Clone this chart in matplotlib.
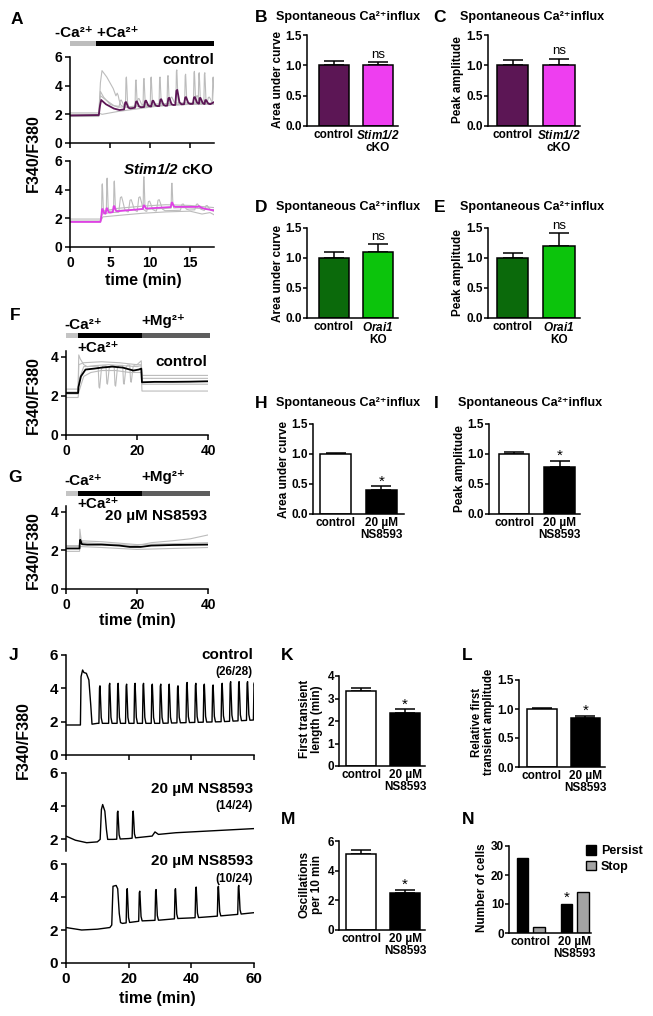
import numpy as np
import matplotlib
matplotlib.use('Agg')
import matplotlib.pyplot as plt
from matplotlib.transforms import blended_transform_factory
from matplotlib.patches import Rectangle

plt.rcParams.update({
    'font.family': ['Liberation Sans', 'DejaVu Sans'],
    'font.weight': 'bold',
    'mathtext.fontset': 'custom',
    'mathtext.rm': 'Liberation Sans:bold',
    'mathtext.it': 'Liberation Sans:bold:italic',
    'mathtext.sf': 'Liberation Sans:bold:italic',
    'mathtext.bf': 'Liberation Sans:bold',
    'mathtext.default': 'rm',
    'axes.linewidth': 1.1,
})

W, H = 653, 1016

# ---------------- data ----------------
# Panel A, control (time in min)
A_ctl_mean_t = [0, 3.6, 3.75, 3.9, 4.5, 5.5, 6.2, 8, 10, 12, 14, 16, 17.5, 18]
A_ctl_mean_y = [1.92, 1.95, 2.6, 3.0, 2.7, 2.4, 2.3, 2.45, 2.55, 2.6, 2.7, 2.75, 2.7, 2.85]
A_ctl_mean_spk_t = [6.9, 8.25, 9.4, 10.3, 11.3, 12.3, 13.3, 14.4, 15.5, 16.2, 16.9]
A_ctl_mean_spk_p = [2.85, 2.9, 2.95, 2.95, 3.05, 3.15, 3.7, 3.2, 3.2, 3.15, 3.0]
A_ctl_g1_t = [0, 3.6, 3.8, 4.0, 4.6, 5.4, 6.2, 7, 9, 12, 15, 18]
A_ctl_g1_y = [2.0, 2.0, 4.2, 5.05, 4.6, 3.8, 2.6, 2.5, 2.55, 2.6, 2.7, 2.7]
A_ctl_g1_spk_t = [5.9]
A_ctl_g1_spk_p = [3.5]
A_ctl_g2_t = [0, 3.6, 3.8, 4.2, 5, 6, 8, 10, 12, 14, 16, 18]
A_ctl_g2_y = [1.95, 1.95, 3.6, 3.2, 2.7, 2.5, 2.55, 2.6, 2.65, 2.7, 2.7, 2.75]
A_ctl_g2_spk_t = [7.0, 8.2, 9.2, 10.1, 11.2, 12.2, 13.3, 14.4, 15.5, 16.1, 16.8, 17.85]
A_ctl_g2_spk_p = [4.6, 4.4, 4.5, 4.6, 4.6, 4.7, 5.1, 4.8, 5.0, 4.9, 4.9, 4.6]
A_ctl_g3_t = [0, 3.6, 4.0, 6, 8, 10, 12, 14, 16, 18]
A_ctl_g3_y = [2.1, 2.1, 2.0, 2.2, 2.35, 2.5, 2.65, 2.7, 2.75, 2.8]
A_ctl_g4_t = [0, 3.6, 3.8, 4.5, 5.5, 7, 10, 14, 18]
A_ctl_g4_y = [1.85, 1.85, 3.3, 3.0, 2.6, 2.5, 2.7, 2.8, 2.8]
A_ctl_g4_spk_t = [6.3, 8.5, 12.6, 15.8, 17.3]
A_ctl_g4_spk_p = [3.0, 3.1, 3.2, 3.3, 3.2]

# Panel A, Stim1/2 cKO
A_ko_mean_t = [0, 3.8, 4.0, 4.3, 5, 6, 8, 10, 13, 16, 17, 18]
A_ko_mean_y = [1.75, 1.75, 2.3, 2.3, 2.4, 2.5, 2.6, 2.7, 2.8, 2.8, 2.65, 2.55]
A_ko_mean_spk_t = [4.0, 4.55, 5.45, 9.2, 12.7, 16.1]
A_ko_mean_spk_p = [2.65, 2.7, 2.85, 2.9, 3.1, 2.85]
A_ko_g1_t = [0, 3.8, 4.0, 5, 6, 8, 10, 12, 14, 16, 18]
A_ko_g1_y = [1.8, 1.8, 2.4, 2.5, 2.55, 2.6, 2.65, 2.7, 2.75, 2.7, 2.6]
A_ko_g1_spk_t = [4.0, 4.6, 5.5, 9.2, 12.7]
A_ko_g1_spk_p = [4.4, 4.8, 4.6, 4.9, 4.45]
A_ko_g2_t = [0, 3.8, 4.0, 5, 7, 10, 13, 16, 18]
A_ko_g2_y = [1.8, 1.8, 2.3, 2.4, 2.45, 2.5, 2.55, 2.6, 2.5]
A_ko_g2_spk_t = [6.3, 7.5, 8.6, 9.8, 11.0, 14.0, 15.8, 17.0]
A_ko_g2_spk_p = [3.5, 3.3, 3.5, 3.2, 3.3, 3.0, 3.0, 2.9]
A_ko_g3_t = [0, 3.8, 4.1, 6, 9, 12, 15, 18]
A_ko_g3_y = [1.95, 1.95, 2.5, 2.7, 2.85, 2.95, 2.9, 2.75]
A_ko_g4_t = [0, 3.8, 4.1, 6, 9, 12, 15, 16.5, 17.5, 18]
A_ko_g4_y = [1.75, 1.75, 2.1, 2.2, 2.35, 2.45, 2.5, 2.3, 2.4, 2.25]

A_cond_t = [0, 3.3, 18]          # -Ca2+, +Ca2+

# Panel F (control, Mg2+ block)
F_mean_t = [0, 3.4, 3.5, 4.2, 5.5, 8, 10, 13, 16, 19, 20.5, 21.2, 21.4, 25, 30, 35, 40]
F_mean_y = [2.15, 2.15, 2.45, 3.0, 3.35, 3.4, 3.45, 3.5, 3.45, 3.3, 3.35, 3.4, 2.7, 2.72, 2.72, 2.73, 2.75]
F_g1_t = [0, 3.4, 3.6, 4.0, 5, 6, 8, 12, 16, 20, 21.2, 21.4, 30, 40]
F_g1_y = [2.35, 2.35, 4.1, 3.9, 3.6, 3.5, 3.55, 3.6, 3.55, 3.5, 3.55, 3.05, 3.05, 3.05]
F_g2_t = [0, 3.4, 3.6, 5, 7, 10, 14, 18, 21.2, 21.4, 30, 40]
F_g2_y = [1.92, 1.92, 2.2, 3.0, 3.2, 3.3, 3.3, 3.2, 3.2, 2.25, 2.25, 2.25]
F_g3_t = [0, 3.4, 3.6, 5, 21.2, 21.4, 40]
F_g3_y = [2.2, 2.2, 2.8, 3.5, 3.6, 2.6, 2.6]
F_g3_dip_t = [9.3, 11.5, 13.8, 16.2, 18.2]
F_g3_dip_p = [2.4, 2.6, 2.5, 2.6, 2.7]
F_g4_t = [0, 3.4, 3.6, 5, 10, 15, 20, 21.2, 21.4, 40]
F_g4_y = [2.1, 2.1, 3.6, 3.7, 3.75, 3.7, 3.6, 3.8, 2.9, 2.9]
F_cond_t = [0, 3.4, 21.4, 40.5]    # -Ca2+, +Ca2+, +Mg2+

# Panel G (20 uM NS8593)
G_mean_t = [0, 3.8, 3.9, 4.0, 4.5, 6, 10, 15, 18, 21, 24, 30, 40]
G_mean_y = [2.1, 2.1, 2.4, 2.55, 2.32, 2.3, 2.3, 2.25, 2.18, 2.18, 2.25, 2.28, 2.3]
G_g1_t = [0, 3.8, 3.9, 4.3, 5, 10, 20, 24, 30, 35, 40]
G_g1_y = [2.2, 2.2, 3.1, 2.5, 2.4, 2.35, 2.25, 2.4, 2.5, 2.6, 2.8]
G_g2_t = [0, 3.8, 4.0, 10, 20, 30, 40]
G_g2_y = [1.95, 1.95, 2.2, 2.15, 2.05, 2.1, 2.15]
G_g3_t = [0, 3.8, 4.0, 10, 20, 30, 40]
G_g3_y = [2.25, 2.25, 2.5, 2.45, 2.3, 2.35, 2.4]

# Panel J single-cell traces
J1_t = [0, 4.6, 4.8, 5.3, 5.7, 6.5, 7.3, 7.9, 8.3, 10, 20, 30, 40, 50, 60]
J1_y = [1.8, 1.8, 4.7, 5.1, 4.95, 4.9, 4.5, 3.0, 1.85, 1.9, 1.9, 1.9, 1.95, 2.0, 2.1]
J1_spk_t = [10.7, 13.8, 16.5, 19.2, 21.9, 24.6, 27.4, 30.1, 32.8, 35.6, 38.5, 41.3, 44.0,
            46.8, 49.7, 52.4, 55.1, 57.8, 60.0]
J1_spk_p = [4.15, 4.3, 4.3, 4.25, 4.3, 4.3, 4.25, 4.25, 4.25, 4.15, 4.35, 4.3, 4.25,
            4.2, 4.3, 4.4, 4.4, 4.4, 4.35]
J2_t = [0, 3, 6.6, 10, 10.9, 11.3, 11.7, 12.4, 12.9, 13.3, 15, 20, 25, 27.5, 28.4, 29.5, 35, 45, 60]
J2_y = [2.2, 1.95, 1.8, 1.85, 2.0, 3.8, 4.1, 3.7, 2.6, 2.0, 2.0, 2.05, 2.15, 2.2, 2.45, 2.3, 2.4, 2.5, 2.65]
J2_spk_t = [16.4, 21.3]
J2_spk_p = [3.7, 3.7]
J3_t = [0, 5, 10, 14, 14.6, 15.0, 16.0, 16.5, 17.0, 17.4, 18, 24, 30, 36, 42, 49, 55, 60]
J3_y = [2.15, 2.0, 2.05, 2.15, 2.3, 4.65, 4.7, 4.5, 3.0, 2.45, 2.4, 2.55, 2.6, 2.7, 2.75, 2.85, 2.95, 3.05]
J3_spk_t = [19.4, 23.4, 28.6, 34.8, 41.4, 48.5, 55.0]
J3_spk_p = [4.5, 4.35, 4.45, 4.5, 4.6, 4.65, 4.7]

# Bar panels
grp_labels_stim = ['control', '$\\mathsf{Stim1/2}$\ncKO']
grp_labels_orai = ['control', '$\\mathsf{Orai1}$\nKO']
grp_labels_ns = ['control', '20 µM\nNS8593']
B_vals, B_err = [1.0, 1.01], [0.07, 0.05]
C_vals, C_err = [1.0, 1.01], [0.08, 0.10]
D_vals, D_err = [1.0, 1.10], [0.10, 0.13]
E_vals, E_err = [1.0, 1.20], [0.08, 0.22]
H_vals, H_err = [1.0, 0.40], [0.02, 0.06]
I_vals, I_err = [1.0, 0.79], [0.03, 0.10]
K_vals, K_err = [3.35, 2.35], [0.12, 0.17]
L_vals, L_err = [1.0, 0.85], [0.01, 0.03]
M_vals, M_err = [5.1, 2.5], [0.30, 0.22]
N_persist = [26, 10]
N_stop = [2, 14]

# ---------------- helpers ----------------
purple = '#5c1655'
pink = '#ee3ef0'
dgreen = '#0b6a0b'
lgreen = '#0cc40c'
gtr = '#bcbcbc'
CA = 'Ca²⁺'
MG = 'Mg²⁺'

fig = plt.figure(figsize=(W / 100, H / 100), dpi=100)


def rect(x0, y0, x1, y1):
    return [x0 / W, 1 - y1 / H, (x1 - x0) / W, (y1 - y0) / H]


def ftext(x, y, s, ha='left', size=9, **kw):
    fig.text(x / W, 1 - y / H, s, ha=ha, va='center', fontsize=size, **kw)


def trace(bt, by, st=(), sp=(), w=1.0):
    bt = np.asarray(bt, float); by = np.asarray(by, float)
    dt = np.array([-0.2, 0.0, 0.15, 0.3, 0.55, 0.9]) * w
    fr = np.array([0, 0.95, 1.0, 0.7, 0.15, 0.0])
    pts = []
    wins = []
    for t, p in zip(st, sp):
        b0 = np.interp(t, bt, by)
        for d, f in zip(dt, fr):
            bi = np.interp(t + d, bt, by)
            pts.append((t + d, bi + f * (p - b0)))
        wins.append((t + dt[0], t + dt[-1]))
    for t, y in zip(bt, by):
        if not any(a < t < b for a, b in wins):
            pts.append((t, y))
    pts.sort()
    return [p[0] for p in pts], [p[1] for p in pts]


def style_trace(ax, xlim, ylim, xticks, yticks, xlabels=True, bottom=True, fs=10):
    ax.set_xlim(*xlim); ax.set_ylim(*ylim)
    for s in ['top', 'right']:
        ax.spines[s].set_visible(False)
    ax.set_yticks(yticks)
    ax.tick_params(length=3.5, width=1.1, labelsize=fs, pad=2)
    if bottom:
        ax.set_xticks(xticks)
        if not xlabels:
            ax.set_xticklabels([])
        ax.tick_params(axis='x', pad=3)
    else:
        ax.spines['bottom'].set_visible(False)
        ax.set_xticks([])


def strip(ax, segs, colors, y0, y1):
    tr = blended_transform_factory(ax.transData, fig.transFigure)
    for i, c in enumerate(colors):
        ax.add_patch(Rectangle((segs[i], 1 - y1 / H), segs[i + 1] - segs[i], (y1 - y0) / H,
                               transform=tr, facecolor=c, edgecolor='none', clip_on=False))


def bar_panel(r, vals, errs, colors, labels, ylim, yticks, yfmt, xlim, sig=None, sigsize=9,
              sigoff=3.0):
    ax = fig.add_axes(rect(*r))
    x = np.arange(len(vals))
    ax.bar(x, vals, width=0.68, color=colors, edgecolor='black', linewidth=1.1, zorder=2)
    ax.errorbar(x, vals, yerr=[[0] * len(vals), errs], fmt='none', ecolor='black',
                elinewidth=1.1, capsize=7.5, capthick=1.1, zorder=1)
    ax.set_xlim(*xlim); ax.set_ylim(*ylim)
    for s in ['top', 'right']:
        ax.spines[s].set_visible(False)
    ax.set_yticks(yticks)
    ax.set_yticklabels([yfmt.format(v) for v in yticks])
    ax.set_xticks(x)
    ax.set_xticklabels(labels, linespacing=1.0)
    ax.tick_params(axis='y', length=3, width=1.1, labelsize=8.5, pad=0.5)
    ax.tick_params(axis='x', length=0, labelsize=8.5, pad=2)
    if sig:
        ax.annotate(sig, (1, vals[1] + errs[1]), xytext=(0, sigoff), textcoords='offset points',
                    ha='center', va='baseline', fontsize=sigsize, fontweight='normal')
    return ax


# ---------------- Panel A ----------------
axA1 = fig.add_axes(rect(70, 57, 214, 143))
for bt, by, st, sp, w in [(A_ctl_g1_t, A_ctl_g1_y, A_ctl_g1_spk_t, A_ctl_g1_spk_p, 0.8),
                          (A_ctl_g2_t, A_ctl_g2_y, A_ctl_g2_spk_t, A_ctl_g2_spk_p, 0.35),
                          (A_ctl_g3_t, A_ctl_g3_y, (), (), 1),
                          (A_ctl_g4_t, A_ctl_g4_y, A_ctl_g4_spk_t, A_ctl_g4_spk_p, 0.8)]:
    axA1.plot(*trace(bt, by, st, sp, w), color=gtr, lw=0.8)
axA1.plot(*trace(A_ctl_mean_t, A_ctl_mean_y, A_ctl_mean_spk_t, A_ctl_mean_spk_p, 0.7),
          color=purple, lw=1.3)
style_trace(axA1, (0, 18), (0, 6), [0, 5, 10, 15], [0, 2, 4, 6], xlabels=False)
strip(axA1, A_cond_t, ['#bdbdbd', 'black'], 41, 46)

axA2 = fig.add_axes(rect(70, 161, 214, 247))
for bt, by, st, sp, w in [(A_ko_g1_t, A_ko_g1_y, A_ko_g1_spk_t, A_ko_g1_spk_p, 0.3),
                          (A_ko_g2_t, A_ko_g2_y, A_ko_g2_spk_t, A_ko_g2_spk_p, 1.0),
                          (A_ko_g3_t, A_ko_g3_y, (), (), 1),
                          (A_ko_g4_t, A_ko_g4_y, (), (), 1)]:
    axA2.plot(*trace(bt, by, st, sp, w), color=gtr, lw=0.8)
axA2.plot(*trace(A_ko_mean_t, A_ko_mean_y, A_ko_mean_spk_t, A_ko_mean_spk_p, 0.5),
          color='#e040e6', lw=1.3)
style_trace(axA2, (0, 18), (0, 6), [0, 5, 10, 15], [0, 2, 4, 6])

ftext(17, 20, 'A', ha='center', size=12.5)
ftext(55, 33, '-' + CA + ' +' + CA, size=11)
ftext(214, 60, 'control', ha='right', size=11)
ftext(214, 170, '$\\mathsf{Stim1/2}$ cKO', ha='right', size=11)
ftext(33, 153, 'F340/F380', ha='center', size=11.5, rotation=90)
ftext(143, 281, 'time (min)', ha='center', size=11.5)

# ---------------- Bar panels B-E, H, I ----------------
bar_panel((307, 35, 398, 126), B_vals, B_err, [purple, pink], grp_labels_stim,
          (0, 1.5), [0, 0.5, 1.0, 1.5], '{:.1f}', (-0.6, 1.45), 'ns', 9.5)
bar_panel((488, 35, 580, 126), C_vals, C_err, [purple, pink], grp_labels_stim,
          (0, 1.5), [0, 0.5, 1.0, 1.5], '{:.1f}', (-0.53, 1.45), 'ns', 9.5)
bar_panel((307, 228, 398, 318), D_vals, D_err, [dgreen, lgreen], grp_labels_orai,
          (0, 1.5), [0, 0.5, 1.0, 1.5], '{:.1f}', (-0.6, 1.45), 'ns', 9.5)
bar_panel((488, 228, 580, 318), E_vals, E_err, [dgreen, lgreen], grp_labels_orai,
          (0, 1.5), [0, 0.5, 1.0, 1.5], '{:.1f}', (-0.53, 1.45), 'ns', 9.5)
bar_panel((313, 424, 404, 514), H_vals, H_err, ['white', 'black'], grp_labels_ns,
          (0, 1.5), [0, 0.5, 1.0, 1.5], '{:.1f}', (-0.5, 1.5), '*', 11, 0.5)
bar_panel((489, 424, 580, 514), I_vals, I_err, ['white', 'black'], grp_labels_ns,
          (0, 1.5), [0, 0.5, 1.0, 1.5], '{:.1f}', (-0.55, 1.45), '*', 11, 0.5)

title = 'Spontaneous ' + CA + 'influx'
for (lx, tx, y, letter) in [(261, 276, 18, 'B'), (440, 460, 18, 'C'), (261, 276, 208, 'D'),
                            (440, 460, 208, 'E'), (261, 276, 404, 'H'), (436, 458, 404, 'I')]:
    ftext(lx, y, letter, ha='center', size=12.5)
    ftext(tx, y - 1, title, size=9.1)
for (x, y, s) in [(278, 80, 'Area under curve'), (458, 80, 'Peak amplitude'),
                  (278, 273, 'Area under curve'), (458, 273, 'Peak amplitude'),
                  (284, 469, 'Area under curve'), (460, 469, 'Peak amplitude')]:
    ftext(x, y, s, ha='center', size=8.5, rotation=90)

# ---------------- Panels F, G ----------------
axF = fig.add_axes(rect(66, 351, 208, 435))
for bt, by in [(F_g1_t, F_g1_y), (F_g2_t, F_g2_y), (F_g4_t, F_g4_y)]:
    axF.plot(bt, by, color=gtr, lw=0.8)
axF.plot(*trace(F_g3_t, F_g3_y, F_g3_dip_t, F_g3_dip_p, 1.2), color=gtr, lw=0.8)
axF.plot(F_mean_t, F_mean_y, color='black', lw=1.3)
style_trace(axF, (0, 40), (0, 4.3), [0, 20, 40], [0, 2, 4])
strip(axF, F_cond_t, ['#c4c4c4', 'black', '#5e5e5e'], 333, 338)

axG = fig.add_axes(rect(66, 506, 208, 589))
for bt, by in [(G_g1_t, G_g1_y), (G_g2_t, G_g2_y), (G_g3_t, G_g3_y)]:
    axG.plot(bt, by, color=gtr, lw=0.8)
axG.plot(G_mean_t, G_mean_y, color='black', lw=1.3)
style_trace(axG, (0, 40), (0, 4.3), [0, 20, 40], [0, 2, 4])
strip(axG, F_cond_t, ['#c4c4c4', 'black', '#5e5e5e'], 491, 496)

ftext(15, 315, 'F', ha='center', size=12.5)
ftext(64, 325, '-' + CA, size=11)
ftext(141, 321, '+' + MG, size=11)
ftext(77, 348, '+' + CA, size=11)
ftext(207, 362, 'control', ha='right', size=11)
ftext(33, 395, 'F340/F380', ha='center', size=11.5, rotation=90)
ftext(15, 477, 'G', ha='center', size=12.5)
ftext(64, 481, '-' + CA, size=11)
ftext(141, 477, '+' + MG, size=11)
ftext(77, 504, '+' + CA, size=11)
ftext(207, 516, '20 µM NS8593', ha='right', size=11)
ftext(33, 550, 'F340/F380', ha='center', size=11.5, rotation=90)
ftext(137, 620, 'time (min)', ha='center', size=11.5)

# ---------------- Panel J ----------------
axJ1 = fig.add_axes(rect(66, 655, 254, 755))
axJ1.plot(*trace(J1_t, J1_y, J1_spk_t, J1_spk_p, 1.0), color='black', lw=1.0)
style_trace(axJ1, (0, 60), (0, 6), [0, 20, 40, 60], [0, 2, 4, 6], xlabels=False, fs=11)
axJ2 = fig.add_axes(rect(66, 773, 254, 851))
axJ2.plot(*trace(J2_t, J2_y, J2_spk_t, J2_spk_p, 1.0), color='black', lw=1.0)
style_trace(axJ2, (0, 60), (1.3, 6), [], [2, 4, 6], bottom=False, fs=11)
axJ3 = fig.add_axes(rect(66, 864, 254, 963))
axJ3.plot(*trace(J3_t, J3_y, J3_spk_t, J3_spk_p, 1.0), color='black', lw=1.0)
style_trace(axJ3, (0, 60), (0, 6), [0, 20, 40, 60], [0, 2, 4, 6], fs=11)

ftext(14, 655, 'J', ha='center', size=12.5)
ftext(253, 655, 'control', ha='right', size=11)
ftext(253, 672, '(26/28)', ha='right', size=8.5)
ftext(253, 789, '20 µM NS8593', ha='right', size=11)
ftext(253, 806, '(14/24)', ha='right', size=8.5)
ftext(253, 861, '20 µM NS8593', ha='right', size=11)
ftext(253, 879, '(10/24)', ha='right', size=8.5)
ftext(23, 740, 'F340/F380', ha='center', size=11.5, rotation=90)
ftext(157, 998, 'time (min)', ha='center', size=11.5)

# ---------------- Panels K-N ----------------
bar_panel((339, 676, 425, 766), K_vals, K_err, ['white', 'black'], grp_labels_ns,
          (0, 4), [0, 1, 2, 3, 4], '{:d}', (-0.5, 1.45), '*', 11, 0.5)
bar_panel((519, 680, 605, 767), L_vals, L_err, ['white', 'black'], grp_labels_ns,
          (0, 1.5), [0, 0.5, 1.0, 1.5], '{:.1f}', (-0.52, 1.45), '*', 11, 0.5)
bar_panel((339, 841, 425, 930), M_vals, M_err, ['white', 'black'], grp_labels_ns,
          (0, 6), [0, 2, 4, 6], '{:d}', (-0.5, 1.45), '*', 11, 0.5)

axN = fig.add_axes(rect(509, 846, 591, 933))
xn = np.arange(2)
axN.bar(xn - 0.184, N_persist, width=0.264, color='black', edgecolor='black', linewidth=1.0,
        label='Persist')
axN.bar(xn + 0.184, N_stop, width=0.264, color='#a3a3a3', edgecolor='black', linewidth=1.0,
        label='Stop')
axN.set_xlim(-0.49, 1.37); axN.set_ylim(0, 30)
for s in ['top', 'right']:
    axN.spines[s].set_visible(False)
axN.set_yticks([0, 10, 20, 30])
axN.set_xticks(xn)
axN.set_xticklabels(grp_labels_ns, linespacing=1.0)
axN.tick_params(axis='y', length=3, width=1.1, labelsize=8.5, pad=0.5)
axN.tick_params(axis='x', length=0, labelsize=8.5, pad=2)
axN.annotate('*', (1 - 0.184, N_persist[1]), xytext=(0, 1.5), textcoords='offset points',
             ha='center', va='baseline', fontsize=11, fontweight='normal')
axN.legend(loc='upper left', bbox_to_anchor=(586 / W, 1 - 845 / H), bbox_transform=fig.transFigure,
           frameon=False, fontsize=9, handlelength=0.8, handleheight=0.8, handletextpad=0.4,
           labelspacing=0.3, borderpad=0, borderaxespad=0)

ftext(287, 655, 'K', ha='center', size=12.5)
ftext(467, 655, 'L', ha='center', size=12.5)
ftext(288, 819, 'M', ha='center', size=12.5)
ftext(468, 819, 'N', ha='center', size=12.5)
ftext(311, 719, 'First transient\nlength (min)', ha='center', size=8.5, rotation=90,
      linespacing=1.0)
ftext(483, 722, 'Relative first\ntransient amplitude', ha='center', size=8.3, rotation=90,
      linespacing=1.0)
ftext(311, 884, 'Oscillations\nper 10 min', ha='center', size=8.5, rotation=90, linespacing=1.0)
ftext(482, 888, 'Number of cells', ha='center', size=8.5, rotation=90)

fig.savefig('out.png', dpi=100)
